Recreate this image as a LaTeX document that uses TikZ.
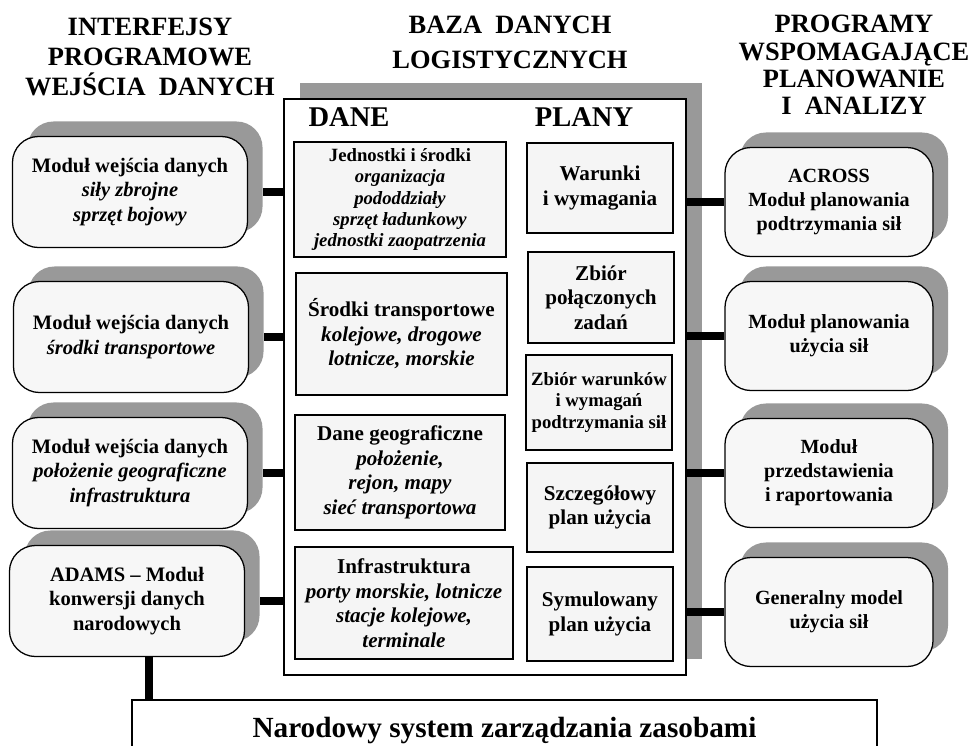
\documentclass[tikz,border=0pt]{standalone}
\usepackage{fontspec}
\setmainfont{Liberation Serif}
\usepackage{tikz}
\usetikzlibrary{shadows}

\begin{document}
\begin{tikzpicture}[
                    x=0.025cm, y=-0.025cm,
                    every node/.style={
                        align=center,
                        inner sep=2pt,
                        font=\bfseries
                    },
                    head/.style={font=\fontsize{18.8}{21.3}\selectfont\bfseries},
                    shade/.style={general shadow={fill=black!40, shadow xshift=#1, shadow yshift=#1}},
                    module/.style={
                        draw, line width=0.9pt,
                        rounded corners=0.65cm,
                        fill=black!3,
                        minimum width=5.875cm, minimum height=2.775cm,
                        shade=0.375cm,
                        font=\fontsize{14.6}{17.4}\selectfont\bfseries
                    },
                    rmodule/.style={
                        module,
                        minimum width=5.2cm, minimum height=2.725cm,
                        font=\fontsize{14.3}{17}\selectfont\bfseries
                    },
                    datbox/.style={
                        draw, line width=1.3pt,
                        fill=black!4,
                        font=\fontsize{15}{17.4}\selectfont\bfseries
                    },
                    smallbox/.style={
                        datbox,
                        font=\fontsize{13.3}{15.2}\selectfont\bfseries
                    },
                    link/.style={line width=5.7pt}
                ]
                    \useasboundingbox (0,0) rectangle (968,745);
                    \clip (0,0) rectangle (968,745);

                    % Headers
                    \node[head] (hin) at (150,56.5) {INTERFEJSY\\PROGRAMOWE\\WEJŚCIA\ \ DANYCH};
                    \node[head, font=\fontsize{18.8}{24.9}\selectfont\bfseries] (hdb) at (510,42.5) {BAZA\ \ DANYCH\\LOGISTYCZNYCH};
                    \node[head, font=\fontsize{18.8}{19.4}\selectfont\bfseries] (hout) at (854,65) {PROGRAMY\\WSPOMAGAJĄCE\\PLANOWANIE\\I\ \ ANALIZY};

                    % Database
                    \node[draw, line width=0.9pt, fill=white, shade=0.4cm,
                          minimum width=10.05cm, minimum height=14.4cm] (db) at (485,387) {};
                    \node[font=\fontsize{20.3}{24}\selectfont\bfseries] (dane) at (349,117) {DANE};
                    \node[font=\fontsize{20.3}{24}\selectfont\bfseries] (plany) at (584,117) {PLANY};

                    \node[smallbox, minimum width=5.3cm, minimum height=2.875cm] (d1) at (400,199.5)
                        {Jednostki i środki\\\textit{organizacja}\\\textit{pododdziały}\\\textit{sprzęt ładunkowy}\\\textit{jednostki zaopatrzenia}};
                    \node[datbox, minimum width=5.275cm, minimum height=3.05cm] (d2) at (401.5,334)
                        {Środki transportowe\\\textit{kolejowe, drogowe}\\\textit{lotnicze, morskie}};
                    \node[datbox, minimum width=5.25cm, minimum height=2.875cm] (d3) at (400,472.5)
                        {Dane geograficzne\\\textit{położenie,}\\\textit{rejon, mapy}\\\textit{sieć transportowa}};
                    \node[datbox, minimum width=5.45cm, minimum height=2.8cm] (d4) at (404,603)
                        {Infrastruktura\\\textit{porty morskie, lotnicze}\\\textit{stacje kolejowe,}\\\textit{terminale}};

                    \node[datbox, minimum width=3.65cm, minimum height=2.25cm] (p1) at (600,188) {Warunki\\i wymagania};
                    \node[datbox, minimum width=3.65cm, minimum height=2.275cm] (p2) at (601,297.5) {Zbiór\\połączonych\\zadań};
                    \node[smallbox, minimum width=3.65cm, minimum height=2.375cm] (p3) at (599,402.5) {Zbiór warunków\\i wymagań\\podtrzymania sił};
                    \node[datbox, minimum width=3.65cm, minimum height=2.225cm] (p4) at (600,507.5) {Szczegółowy\\plan użycia};
                    \node[datbox, minimum width=3.65cm, minimum height=2.35cm] (p5) at (600,614) {Symulowany\\plan użycia};

                    % Modules
                    \node[module] (m1) at (130,192) {Moduł wejścia danych\\\textit{siły zbrojne}\\\textit{sprzęt bojowy}};
                    \node[module] (m2) at (131,337) {Moduł wejścia danych\\\textit{środki transportowe}};
                    \node[module] (m3) at (130,473) {Moduł wejścia danych\\\textit{położenie geograficzne}\\\textit{infrastruktura}};
                    \node[module] (m4) at (127,601) {ADAMS – Moduł\\konwersji danych\\narodowych};

                    \node[rmodule] (r1) at (829,202) {ACROSS\\Moduł planowania\\podtrzymania sił};
                    \node[rmodule] (r2) at (829,336) {Moduł planowania\\użycia sił};
                    \node[rmodule] (r3) at (829,473) {Moduł\\przedstawienia\\i raportowania};
                    \node[rmodule] (r4) at (829,612) {Generalny model\\użycia sił};

                    \node[draw, line width=1.2pt, fill=white, minimum width=18.625cm, minimum height=1.5cm,
                          font=\fontsize{20.8}{25}\selectfont\bfseries] (nsz) at (504.5,730)
                        {Narodowy system zarządzania zasobami};

                    % Edges
                    \draw[link, shorten <=0.375cm] (m1.east) -- (m1.east -| db.west);
                    \draw[link, shorten <=0.375cm] (m2.east) -- (m2.east -| db.west);
                    \draw[link, shorten <=0.375cm] (m3.east) -- (m3.east -| db.west);
                    \draw[link, shorten <=0.375cm] (m4.east) -- (m4.east -| db.west);
                    \draw[link] (r1.west) -- (r1.west -| db.east);
                    \draw[link] (r2.west) -- (r2.west -| db.east);
                    \draw[link] (r3.west) -- (r3.west -| db.east);
                    \draw[link] (r4.west) -- (r4.west -| db.east);
                    \coordinate (tap) at ([xshift=0.55cm]m4.south);
                    \draw[link] (tap) -- (tap |- nsz.north);
                \end{tikzpicture}
\end{document}
